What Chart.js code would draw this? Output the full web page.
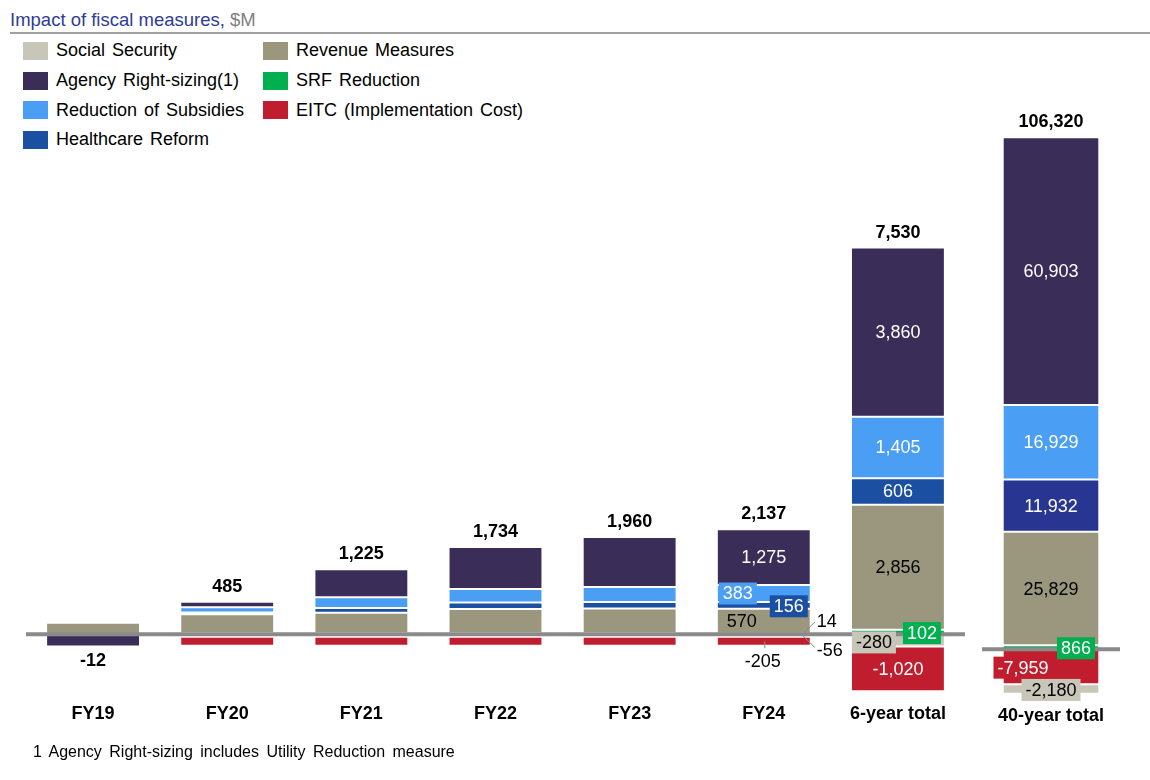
<!DOCTYPE html>
<html>
<head>
<meta charset="utf-8">
<script src="https://cdn.jsdelivr.net/npm/chart.js@4.4.0/dist/chart.umd.min.js"></script>
<style>
  body { margin: 0; width: 1150px; height: 780px; position: relative; background: #fff; overflow: hidden;
         font-family: Arial, "Liberation Sans", sans-serif; color: #000; }
  #title { position: absolute; left: 10px; top: 10px; font-size: 18.5px; line-height: 20px; white-space: nowrap; }
  #title .blue { color: #2f3c96; }
  #title .grey { color: #7f7f7f; }
  #rule { position: absolute; left: 10px; right: 0; top: 32px; height: 2px; background: #a0a0a0; }
  #legend { position: absolute; left: 23px; top: 36px; display: grid; grid-auto-flow: column;
            grid-template-rows: repeat(4, 29.7px); grid-template-columns: 240px auto; }
  .item { display: flex; align-items: center; font-size: 18px; word-spacing: 2px; white-space: nowrap; }
  .swatch { width: 25px; height: 18px; margin-right: 8px; }
  .wrap { position: absolute; top: 0; }
  #wrapA { left: 26px; }
  #wrapB { left: 982px; }
  #note { position: absolute; left: 33px; top: 742px; font-size: 16px; line-height: 20px; word-spacing: 3px; white-space: nowrap; }
</style>
</head>
<body>
<div id="title"><span class="blue">Impact of fiscal measures,</span> <span class="grey">$M</span></div>
<div id="rule"></div>
<div id="legend"></div>
<div class="wrap" id="wrapA"><canvas id="chartA" width="939" height="780"></canvas></div>
<div class="wrap" id="wrapB"><canvas id="chartB" width="138" height="780"></canvas></div>
<div id="note">1 Agency Right-sizing includes Utility Reduction measure</div>

<script>
const FONT = 'Arial, "Liberation Sans", sans-serif';

// yearly figures + 6-year total, $M
const yearLabels = ['FY19', 'FY20', 'FY21', 'FY22', 'FY23', 'FY24', '6-year total'];
const srfReduction = [0, 22, 22, 22, 22, 14, 102];
const revenueMeasures = [265, 433, 468, 553, 567, 570, 2856];
const healthcareReform = [0, 40, 110, 150, 150, 156, 606];
const subsidyReduction = [0, 125, 245, 309, 343, 383, 1405];
const agencyRightSizing = [-277, 125, 640, 960, 1137, 1275, 3860];
const socialSecurity = [0, -56, -56, -56, -56, -56, -280];
const eitcCost = [0, -204, -204, -204, -203, -205, -1020];
const netTotals = [-12, 485, 1225, 1734, 1960, 2137, 7530];

// 40-year total (own scale)
const longLabels = ['40-year total'];
const longSrf = [866];
const longRevenue = [25829];
const longHealthcare = [11932];
const longSubsidies = [16929];
const longAgency = [60903];
const longEitc = [-7959];
const longSocialSecurity = [-2180];
const longTotals = [106320];

const colors = {
  social: '#c8c6b9',
  agency: '#3a2d58',
  subsidies: '#4a9ff4',
  healthcare: '#1b4fa2',
  revenue: '#9a977e',
  srf: '#00b050',
  eitc: '#c01e2e'
};
const names = {
  social: 'Social Security',
  agency: 'Agency Right-sizing(1)',
  subsidies: 'Reduction of Subsidies',
  healthcare: 'Healthcare Reform',
  revenue: 'Revenue Measures',
  srf: 'SRF Reduction',
  eitc: 'EITC (Implementation Cost)'
};
const darkText = { revenue: true, social: true };

// legend, filled column by column like the original
const legendOrder = ['social', 'agency', 'subsidies', 'healthcare', 'revenue', 'srf', 'eitc'];
document.getElementById('legend').innerHTML = legendOrder.map(k =>
  '<div class="item"><span class="swatch" style="background:' + colors[k] + '"></span>' + names[k] + '</div>'
).join('');

const fmt = v => v.toLocaleString('en-US');

function layer(key, data, color) {
  return {
    key: key,
    label: names[key],
    data: data.map(v => v === 0 ? null : v),
    backgroundColor: color || colors[key],
    borderColor: '#ffffff',
    borderWidth: 1,
    borderSkipped: false,
    barPercentage: 0.7,
    categoryPercentage: 1,
    grouped: false
  };
}

// zero line, totals and segment labels
const barText = {
  id: 'barText',
  afterDatasetsDraw(chart, args, opts) {
    const ctx = chart.ctx, area = chart.chartArea, y = chart.scales.y, x = chart.scales.x;
    const zero = y.getPixelForValue(0);
    ctx.save();
    ctx.strokeStyle = '#8a8a8a';
    ctx.lineWidth = 4;
    ctx.beginPath();
    ctx.moveTo(area.left - opts.lineLeft, zero);
    ctx.lineTo(area.right, zero);
    ctx.stroke();

    ctx.textAlign = 'center';
    ctx.textBaseline = 'middle';

    // net totals above (or below) each stack
    ctx.font = 'bold 18px ' + FONT;
    ctx.fillStyle = '#000';
    opts.totals.forEach((net, i) => {
      let pos = 0, neg = 0;
      chart.data.datasets.forEach(ds => {
        const v = ds.data[i] || 0;
        if (v > 0) pos += v; else neg += v;
      });
      const cx = x.getPixelForValue(i);
      const ty = net >= 0 ? y.getPixelForValue(pos) - 15 : y.getPixelForValue(neg) + 15;
      ctx.fillText(fmt(net), cx, ty);
    });

    // segment values
    ctx.font = '18px ' + FONT;
    opts.notes.forEach(n => {
      const di = chart.data.datasets.findIndex(d => d.key === n.key);
      const ds = chart.data.datasets[di];
      const bar = chart.getDatasetMeta(di).data[n.i];
      const cx = bar.x, cy = (bar.y + bar.base) / 2;
      const tx = cx + (n.dx || 0), ty = cy + (n.dy || 0);
      const text = fmt(ds.data[n.i]);
      if (n.leader) {
        ctx.strokeStyle = '#8a8a8a';
        ctx.lineWidth = 1;
        ctx.beginPath();
        ctx.moveTo(cx + n.leader[0], cy + n.leader[1]);
        ctx.lineTo(cx + n.leader[2], cy + n.leader[3]);
        ctx.stroke();
      }
      if (n.box) {
        const w = ctx.measureText(text).width + 8;
        ctx.fillStyle = ds.backgroundColor;
        ctx.fillRect(tx - w / 2, ty - 11, w, 22);
      }
      ctx.fillStyle = (n.leader || darkText[n.key]) ? '#000' : '#fff';
      ctx.fillText(text, tx, ty + 1);
    });
    ctx.restore();
  }
};

function baseOptions(yMin, yMax, tickPad, padBottom, notes, totals) {
  return {
    responsive: false,
    animation: false,
    layout: { padding: { top: 0, right: 0, bottom: padBottom, left: 0 } },
    plugins: {
      legend: { display: false },
      tooltip: { enabled: false },
      barText: { notes: notes, totals: totals, lineLeft: 6 }
    },
    scales: {
      x: {
        stacked: true,
        grid: { display: false, drawTicks: false },
        border: { display: false },
        ticks: { color: '#000', font: { family: FONT, size: 18, weight: 'bold' }, padding: tickPad,
                 maxRotation: 0, autoSkip: false }
      },
      y: { stacked: true, display: false, min: yMin, max: yMax }
    }
  };
}

const notesA = [
  { key: 'agency', i: 5 },
  { key: 'subsidies', i: 5, dx: -26, box: true },
  { key: 'healthcare', i: 5, dx: 25, dy: 1, box: true },
  { key: 'revenue', i: 5, dx: -22 },
  { key: 'srf', i: 5, dx: 63, dy: -13, leader: [38, 1, 51, -12] },
  { key: 'social', i: 5, dx: 66, dy: 15, leader: [39, 0, 51, 12] },
  { key: 'eitc', i: 5, dx: -1, dy: 20, leader: [1, 0, 1, 7] },
  { key: 'agency', i: 6 },
  { key: 'subsidies', i: 6 },
  { key: 'healthcare', i: 6 },
  { key: 'revenue', i: 6 },
  { key: 'srf', i: 6, dx: 24, dy: 1, box: true },
  { key: 'social', i: 6, dx: -24, dy: 2, box: true },
  { key: 'eitc', i: 6 }
];

const notesB = [
  { key: 'agency', i: 0 },
  { key: 'subsidies', i: 0 },
  { key: 'healthcare', i: 0 },
  { key: 'revenue', i: 0 },
  { key: 'srf', i: 0, dx: 25, dy: 1, box: true },
  { key: 'eitc', i: 0, dx: -28, dy: 1, box: true },
  { key: 'social', i: 0, dy: 1, box: true }
];

new Chart(document.getElementById('chartA'), {
  type: 'bar',
  data: {
    labels: yearLabels,
    datasets: [
      layer('srf', srfReduction),
      layer('revenue', revenueMeasures),
      layer('healthcare', healthcareReform),
      layer('subsidies', subsidyReduction),
      layer('agency', agencyRightSizing),
      layer('social', socialSecurity),
      layer('eitc', eitcCost)
    ]
  },
  options: baseOptions(-1395, 14482, 8, 47, notesA, netTotals),
  plugins: [barText]
});

new Chart(document.getElementById('chartB'), {
  type: 'bar',
  data: {
    labels: longLabels,
    datasets: [
      layer('srf', longSrf),
      layer('revenue', longRevenue),
      layer('healthcare', longHealthcare, '#283591'),
      layer('subsidies', longSubsidies),
      layer('agency', longAgency),
      layer('eitc', longEitc),
      layer('social', longSocialSecurity)
    ]
  },
  options: baseOptions(-10520, 147718, 10, 43, notesB, longTotals),
  plugins: [barText]
});
</script>
</body>
</html>
